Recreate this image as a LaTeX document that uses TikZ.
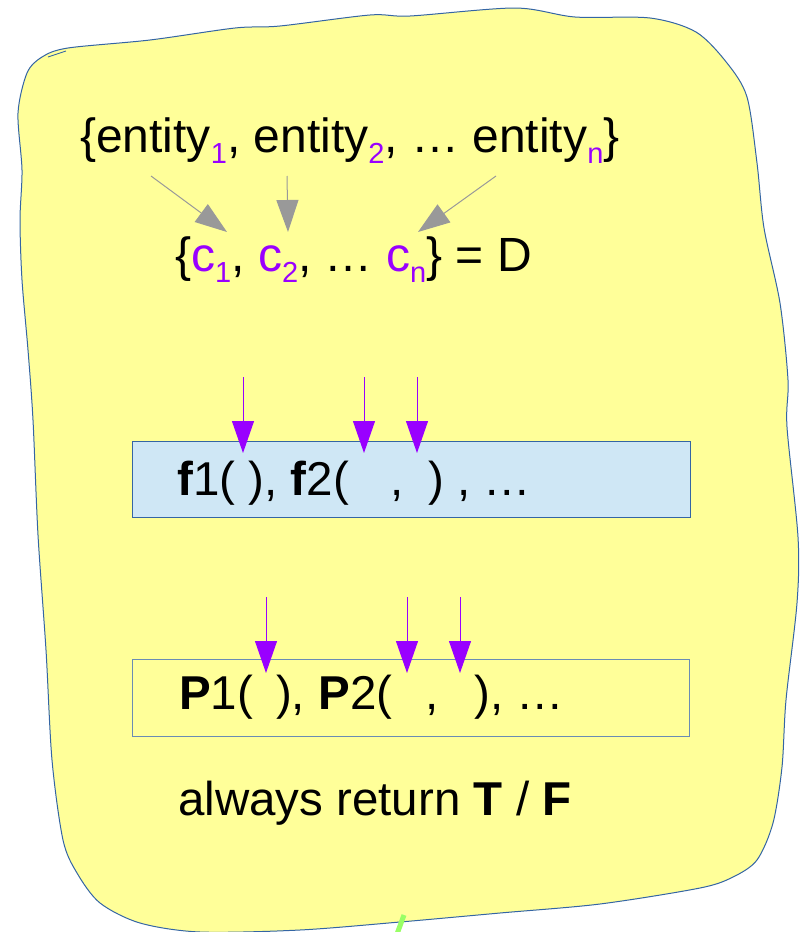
\documentclass[tikz,border=0pt]{standalone}
\usepackage{fontspec}
\setmainfont{Liberation Sans}
\usetikzlibrary{arrows.meta}
\definecolor{vio}{HTML}{9900FF}
\definecolor{blobfill}{HTML}{FFFF99}
\definecolor{blobline}{HTML}{3465A4}
\definecolor{fboxfill}{HTML}{CFE7F5}
\definecolor{pboxline}{HTML}{6A8CB4}
\definecolor{grayarr}{HTML}{999999}
\definecolor{greenmark}{HTML}{99FF66}
\newcommand{\mysub}[1]{\raisebox{-11pt}{\fontsize{29}{33}\selectfont\color{vio}#1}}
\newcommand{\vc}{\textcolor{vio}{c}}
\tikzset{
  txt/.style={inner sep=0pt, anchor=base west, font=\fontsize{47.5}{57}\selectfont},
  bigtxt/.style={inner sep=0pt, anchor=base west, font=\fontsize{48}{57}\selectfont},
  graytip/.style={draw=grayarr, line width=1pt, -{Triangle[length=32pt,width=22pt,fill=grayarr]}},
  viotip/.style={draw=vio, line width=1pt, -{Triangle[length=32pt,width=22pt,fill=vio]}},
  fboxst/.style={draw=blobline, fill=fboxfill, line width=1pt, minimum width=558pt, minimum height=76pt, inner sep=0pt},
  pboxst/.style={draw=pboxline, line width=1pt, minimum width=557pt, minimum height=77pt, inner sep=0pt},
}
\begin{document}
\begin{tikzpicture}[x=1pt,y=-1pt]
\useasboundingbox (0,0) rectangle (800,932);
% blob
\draw[blobline, fill=blobfill, line width=1pt] plot[smooth cycle, tension=0.5] coordinates {
 (68,48) (150,40) (235,28) (280,26) (370,15) (410,16) (515,8) (575,17) (650,18) (696,32)
 (727,63) (747,97) (757,163) (764,228) (780,303) (788,380) (787,427) (798,537) (797,603)
 (786,700) (782,767) (773,823) (757,860) (733,877) (700,888) (600,904) (500,913) (400,922)
 (300,930) (200,932) (140,923) (100,903) (77,873) (63,840) (52,760) (46,650) (38,535)
 (33,420) (28,350) (22,280) (20,220) (22,170) (18,113) (27,73) (42,57)};
\draw[blobline, line width=0.8pt] (48,57) -- (66,51);
% texts
\node[bigtxt] (ent) at (80,152) {\{entity\mysub{1}, entity\mysub{2}, … entity\mysub{n}\}};
\node[bigtxt] (cset) at (175,271) {\{\vc\mysub{1}, \vc\mysub{2}, … \vc\mysub{n}\} = D};
% gray arrows
\coordinate (g1s) at (151,176); \coordinate (g1e) at (227,232);
\coordinate (g2s) at (287,176); \coordinate (g2e) at (288,232);
\coordinate (g3s) at (496,176); \coordinate (g3e) at (418,232);
\draw[graytip] (g1s) -- (g1e);
\draw[graytip] (g2s) -- (g2e);
\draw[graytip] (g3s) -- (g3e);
% f box
\node[fboxst] (fbox) at (411,479) {};
\node[txt] (ftext) at (177,495) {\textbf{f}1( ), \textbf{f}2(\hspace{42pt},\hspace{24pt}) , …};
\coordinate (f1s) at (243,377); \coordinate (f1e) at (243,453);
\coordinate (f2s) at (364,377); \coordinate (f2e) at (364,453);
\coordinate (f3s) at (417,377); \coordinate (f3e) at (417,453);
\draw[viotip] (f1s) -- (f1e);
\draw[viotip] (f2s) -- (f2e);
\draw[viotip] (f3s) -- (f3e);
% P box
\node[pboxst] (pbox) at (410.5,697.5) {};
\node[txt] (ptext) at (179,709) {\textbf{P}1(\hspace{23pt}), \textbf{P}2(\hspace{33pt},\hspace{36pt}), …};
\coordinate (p1s) at (266,597); \coordinate (p1e) at (266,673);
\coordinate (p2s) at (407,597); \coordinate (p2e) at (407,673);
\coordinate (p3s) at (460,597); \coordinate (p3e) at (460,673);
\draw[viotip] (p1s) -- (p1e);
\draw[viotip] (p2s) -- (p2e);
\draw[viotip] (p3s) -- (p3e);
% bottom text
\node[txt] (ret) at (178,815) {always return \textbf{T} / \textbf{F}};
% green mark
\coordinate (gm1) at (404,915); \coordinate (gm2) at (397,934);
\draw[greenmark, line width=5pt] (gm1) -- (gm2);
\end{tikzpicture}
\end{document}
